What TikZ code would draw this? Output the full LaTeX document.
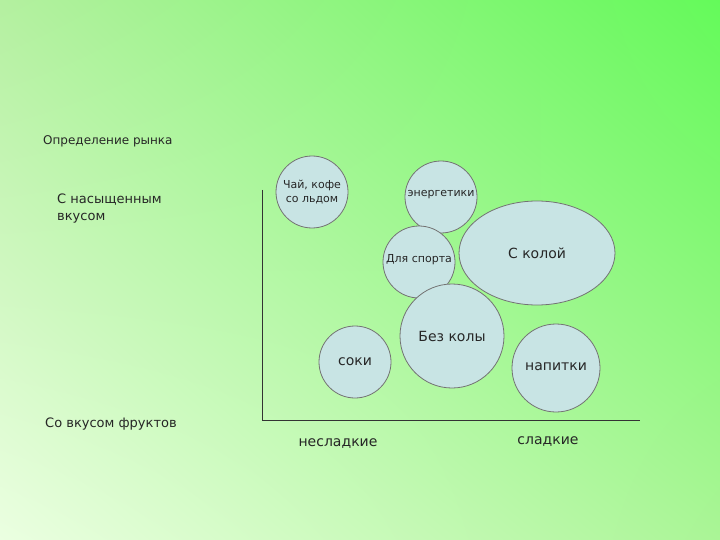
\documentclass[tikz,border=0pt]{standalone}
\usepackage{fontspec}
\usetikzlibrary{shapes.geometric,shadings}
\setmainfont{DejaVu Sans}
\definecolor{bubc}{RGB}{200,228,228}
\definecolor{gur}{RGB}{100,250,90}
\definecolor{gul}{RGB}{180,240,160}
\definecolor{gll}{RGB}{235,255,225}
\definecolor{glr}{RGB}{170,245,150}
\begin{document}
\begin{tikzpicture}[x=1pt,y=-1pt,
  bub/.style={fill=bubc, draw=black!55, line width=0.8pt},
  lbl/.style={font=\fontsize{12}{14}\selectfont, text=black!85, inner sep=0pt}]
\useasboundingbox (0,0) rectangle (720,540);
\shade[upper right=gur, upper left=gul, lower left=gll, lower right=glr] (0,0) rectangle (720,540);
\node[lbl,anchor=west] (def) at (43,141) {Определение рынка};
\node[lbl,anchor=north west,align=left,font=\fontsize{13}{17}\selectfont] (nas) at (57,194) {С насыщенным\\вкусом};
\node[lbl,anchor=west,font=\fontsize{13}{15}\selectfont] (fr) at (45,424) {Со вкусом фруктов};
\coordinate (top) at (262,190);
\coordinate (org) at (262,420);
\coordinate (rt) at (640,420);
\draw[black!80,line width=0.8pt] (top) -- (org) -- (rt);
\node[bub,circle,minimum size=72pt] (chai) at (312,192) {};
\node[bub,circle,minimum size=72pt] (en) at (441,197) {};
\node[bub,circle,minimum size=72pt] (sp) at (419,262) {};
\node[bub,ellipse,minimum width=156pt,minimum height=104pt] (kol) at (537,253) {};
\node[bub,circle,minimum size=104pt] (bez) at (452,336) {};
\node[bub,circle,minimum size=72pt] (soki) at (355,362) {};
\node[bub,circle,minimum size=88pt] (nap) at (556,368) {};
\node[lbl,align=center,font=\fontsize{11}{14}\selectfont] at (chai) {Чай, кофе\\со льдом};
\node[lbl,font=\fontsize{11}{13}\selectfont] at ([yshift=2pt]en) {энергетики};
\node[lbl,font=\fontsize{11}{13}\selectfont] at ([yshift=2pt]sp) {Для спорта};
\node[lbl,font=\fontsize{14}{16}\selectfont] at (kol) {С колой};
\node[lbl,font=\fontsize{14}{16}\selectfont] at (bez) {Без колы};
\node[lbl,font=\fontsize{14}{16}\selectfont] at (soki) {соки};
\node[lbl,font=\fontsize{14}{16}\selectfont] at ([yshift=1pt]nap) {напитки};
\node[lbl,font=\fontsize{14}{16}\selectfont] (ns) at (338,444) {несладкие};
\node[lbl,font=\fontsize{14}{16}\selectfont] (sl) at (548,442) {сладкие};
\end{tikzpicture}
\end{document}
